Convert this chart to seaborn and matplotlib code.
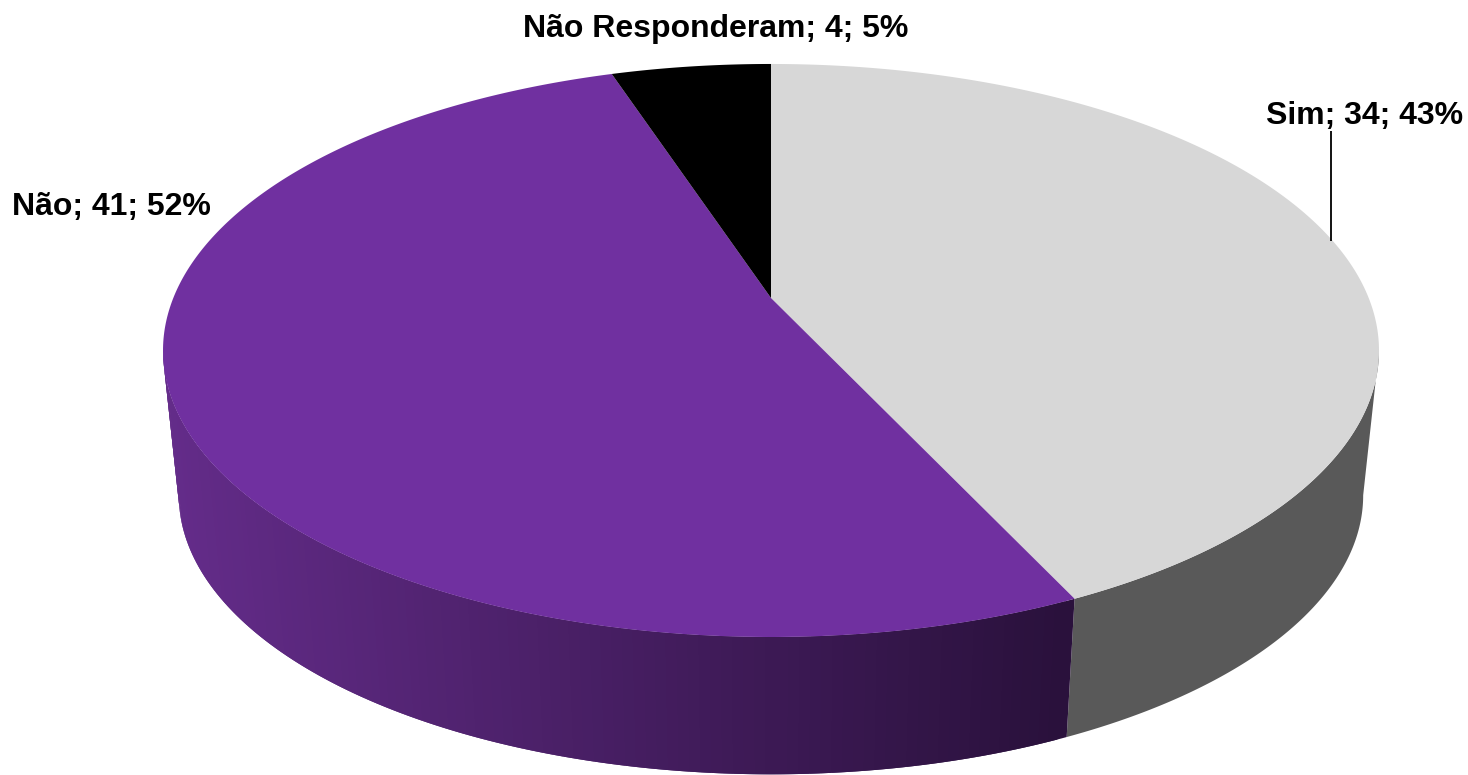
import numpy as np
import matplotlib
matplotlib.use('Agg')
import matplotlib.pyplot as plt
from matplotlib.collections import PolyCollection
import seaborn as sns

# dados do grafico
categorias = ['Sim', 'Não', 'Não Responderam']
valores = [34, 41, 4]
percentuais = [43, 52, 5]

cores_topo = ['#d7d7d7', '#7030a0', '#000000']
cor_lado_sim = '#595959'
cor_lado_nao_esq = np.array([100, 44, 138]) / 255
cor_lado_nao_dir = np.array([42, 17, 60]) / 255

sns.set_theme(style='white')
plt.rcParams['font.family'] = ['Liberation Sans', 'DejaVu Sans']

# parametros da perspectiva, em pixels
CX, CY = 771, 298
RX, RY = 597.7, 276.9
K = 0.1832
VY = 5918     # ponto de fuga das arestas verticais
ESCALA = 0.974
T_LADO = np.degrees(np.arccos(-K))  # onde o contorno fica mais largo


def topo(t):
    # t em graus, sentido horario a partir do topo
    a = np.radians(t)
    s = 1 / (1 + K * np.cos(a))
    return CX + RX * np.sin(a) * s, CY - RY * np.cos(a) * s


def base(t):
    x, y = topo(t)
    return CX + (x - CX) * ESCALA, VY + (y - VY) * ESCALA


def contorno(t0, t1, n=300):
    ts = np.linspace(t0, t1, n)
    xt, yt = topo(ts)
    xb, yb = base(ts)
    return np.r_[xt, xb[::-1]], np.r_[yt, yb[::-1]]


def lateral_gradiente(ax, t0, t1, cor0, cor1):
    # faixas sobrepostas para nao aparecer emenda entre elas
    ts = np.linspace(t0, t1, 120)
    x_ini, x_fim = topo(t1)[0], topo(t0)[0]
    polys, cores = [], []
    for i in range(len(ts) - 1):
        fim = min(i + 2, len(ts) - 1)
        x, y = contorno(ts[i], ts[fim], 6)
        polys.append(np.c_[x, y])
        f = np.clip((topo(ts[i])[0] - x_ini) / (x_fim - x_ini), 0, 1)
        cores.append(tuple(cor1 + (cor0 - cor1) * f))
    # de tras para frente: a esquerda por baixo
    ax.add_collection(PolyCollection(polys[::-1], facecolors=cores[::-1], edgecolors='none'))


fig = plt.figure(figsize=(14.68, 7.75), dpi=100)
ax = fig.add_axes([0, 0, 1, 1])
ax.set_xlim(0, 1468)
ax.set_ylim(775, 0)
ax.axis('off')

angulos = np.cumsum([0] + valores) / sum(valores) * 360

# parede lateral, so a parte da frente aparece
ax.fill(*contorno(T_LADO, angulos[1]), color=cor_lado_sim, lw=0)
lateral_gradiente(ax, angulos[1], 360 - T_LADO, cor_lado_nao_dir, cor_lado_nao_esq)

# fatias de cima
for i, cor in enumerate(cores_topo):
    ts = np.linspace(angulos[i], angulos[i + 1], 300)
    x, y = topo(ts)
    ax.fill(np.r_[CX, x], np.r_[CY, y], color=cor, lw=0)

# rotulos
rotulos = [f'{c}; {v}; {p}%' for c, v, p in zip(categorias, valores, percentuais)]
pos = [(1364.5, 116), (111, 207), (715.5, 29)]
for txt, (x, y) in zip(rotulos, pos):
    ax.text(x, y, txt, ha='center', va='center', fontsize=23, fontweight='bold', color='black')

ax.plot([1331, 1331], [131, 241], color='black', lw=1.3, solid_capstyle='butt')

fig.savefig('out.png', dpi=100)
plt.close(fig)
